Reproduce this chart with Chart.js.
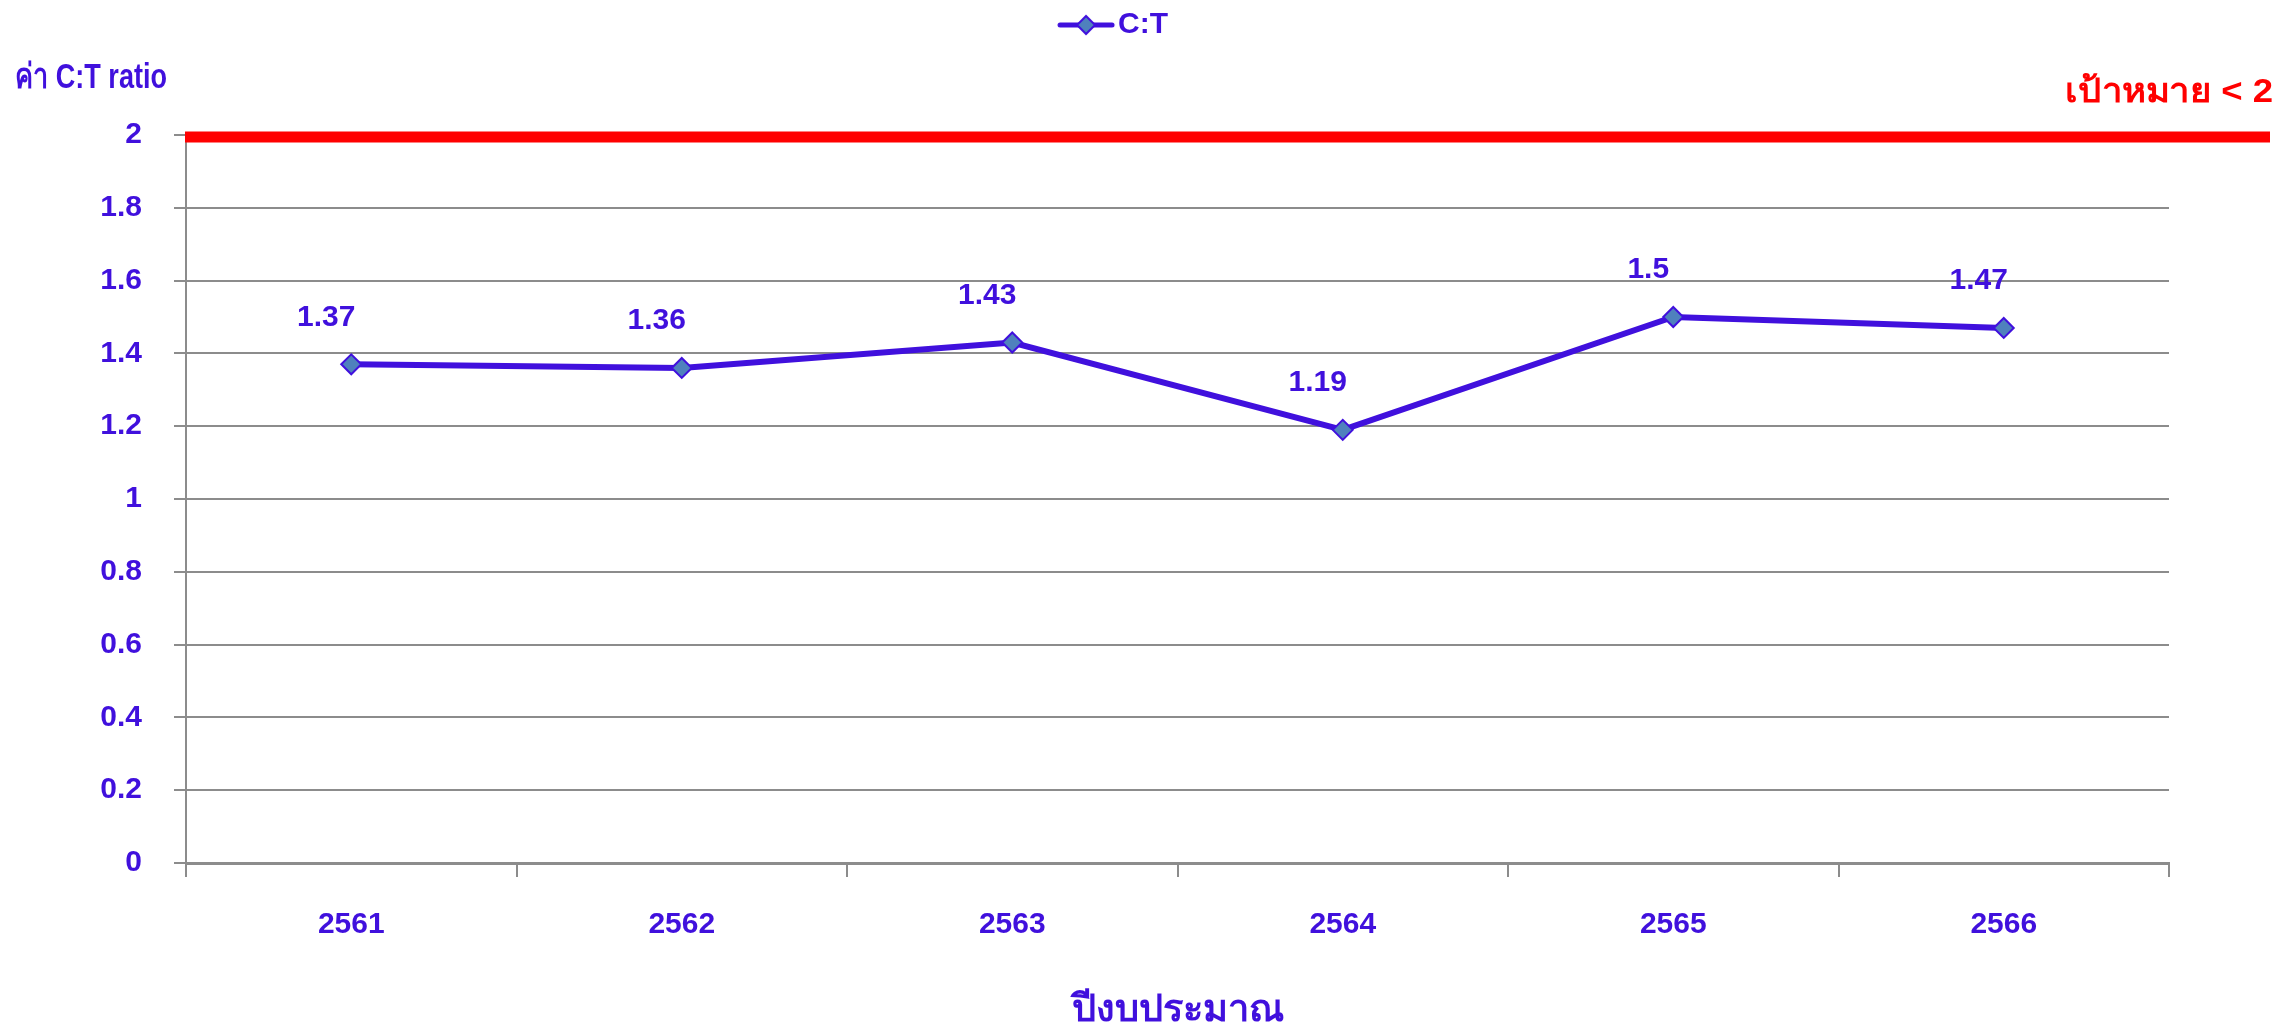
<!DOCTYPE html>
<html lang="th">
<head>
<meta charset="utf-8">
<title>C:T ratio</title>
<script src="https://cdn.jsdelivr.net/npm/chart.js@4/dist/chart.umd.min.js"></script>
<style>
  html, body { margin: 0; padding: 0; background: #fff; }
  #wrap { width: 2282px; height: 1027px; position: relative; }
</style>
</head>
<body>
<div id="wrap"><canvas id="graficoCT"></canvas></div>
<script>
/* data */
const years = ["2561", "2562", "2563", "2564", "2565", "2566"];
const ctValues = [1.37, 1.36, 1.43, 1.19, 1.5, 1.47];
const targetValue = 2;

const PURPLE = "#4010dd";
const GRID = "#8c8c8c";
const FONT = "'Liberation Sans', Arial, sans-serif";

/* legend icon: line with a diamond; drawn right of centre so it sits next to the text */
function makeLegendIcon() {
  const c = document.createElement("canvas");
  c.width = 130;
  c.height = 24;
  const g = c.getContext("2d");
  g.strokeStyle = PURPLE;
  g.lineWidth = 5;
  g.lineCap = "round";
  g.beginPath();
  g.moveTo(73, 12);
  g.lineTo(125, 12);
  g.stroke();
  g.beginPath();
  g.moveTo(99, 3);
  g.lineTo(108, 12);
  g.lineTo(99, 21);
  g.lineTo(90, 12);
  g.closePath();
  g.fillStyle = "#4f81bd";
  g.fill();
  g.lineWidth = 2;
  g.stroke();
  return c;
}

/* text squeezed/stretched to a given width */
function fitText(ctx, text, x, y, width) {
  const w = ctx.measureText(text).width;
  ctx.save();
  ctx.translate(x, y);
  ctx.scale(width / w, 1);
  ctx.fillText(text, 0, 0);
  ctx.restore();
}

/* target line, labels and y title */
const extras = {
  id: "extras",
  beforeInit(chart) {
    const fit = chart.legend.fit;
    chart.legend.fit = function () {
      fit.call(this);
      this.height = 135;
    };
  },
  afterDatasetsDraw(chart) {
    const { ctx, chartArea, scales } = chart;
    ctx.save();

    // red target line
    const ty = scales.y.getPixelForValue(targetValue) + 2;
    ctx.strokeStyle = "#ff0000";
    ctx.lineWidth = 11;
    ctx.beginPath();
    ctx.moveTo(chartArea.left - 1, ty);
    ctx.lineTo(chart.width - 12, ty);
    ctx.stroke();

    ctx.font = "bold 34px " + FONT;
    ctx.fillStyle = "#ff0000";
    ctx.textAlign = "left";
    ctx.textBaseline = "middle";
    fitText(ctx, "เป้าหมาย < 2", 2065, 93, 208);

    // y title
    ctx.fillStyle = PURPLE;
    ctx.font = "bold 35px " + FONT;
    fitText(ctx, "ค่า C:T ratio", 15, 78, 152);

    // value labels
    ctx.font = "bold 30px " + FONT;
    ctx.textAlign = "center";
    const meta = chart.getDatasetMeta(0);
    meta.data.forEach((pt, i) => {
      ctx.fillText(String(ctValues[i]), pt.x - 25, pt.y - 47);
    });
    ctx.restore();
  },
};

function initChart() {
  const ctx = document.getElementById("graficoCT");
  new Chart(ctx, {
    type: "line",
    data: {
      labels: years,
      datasets: [
        {
          label: "C:T",
          data: ctValues,
          borderColor: PURPLE,
          borderWidth: 6,
          tension: 0,
          fill: false,
          pointStyle: "rectRot",
          pointRadius: 10,
          pointBorderWidth: 2,
          pointBackgroundColor: "#4f81bd",
          pointBorderColor: PURPLE,
        },
      ],
    },
    options: {
      responsive: true,
      maintainAspectRatio: false,
      animation: false,
      layout: { padding: { left: 0, right: 113, top: 0, bottom: 0 } },
      plugins: {
        legend: {
          position: "top",
          labels: {
            usePointStyle: true,
            pointStyle: makeLegendIcon(),
            pointStyleWidth: 102,
            padding: 10,
            color: PURPLE,
            font: { family: FONT, size: 30, weight: "bold" },
          },
        },
        tooltip: { enabled: false },
      },
      scales: {
        x: {
          offset: true,
          afterFit(scale) {
            scale.height = 164;
          },
          grid: {
            offset: true,
            drawOnChartArea: false,
            drawTicks: true,
            tickLength: 14,
            color: GRID,
            lineWidth: 2,
          },
          border: { color: GRID, width: 3 },
          ticks: {
            color: PURPLE,
            padding: 30,
            font: { family: FONT, size: 30, weight: "bold" },
          },
          title: {
            display: true,
            text: "ปีงบประมาณ",
            color: PURPLE,
            font: { family: FONT, size: 38, weight: "bold" },
            padding: { top: 0, bottom: -6 },
          },
        },
        y: {
          min: 0,
          max: targetValue,
          afterFit(scale) {
            scale.width = 186;
          },
          grid: {
            color: GRID,
            lineWidth: 2,
            tickLength: 12,
          },
          border: { color: GRID, width: 2 },
          ticks: {
            stepSize: 0.2,
            color: PURPLE,
            padding: 32,
            font: { family: FONT, size: 30, weight: "bold" },
            callback: (v) => String(Math.round(v * 10) / 10),
          },
        },
      },
    },
    plugins: [extras],
  });
}

document.addEventListener("DOMContentLoaded", initChart);
</script>
</body>
</html>
